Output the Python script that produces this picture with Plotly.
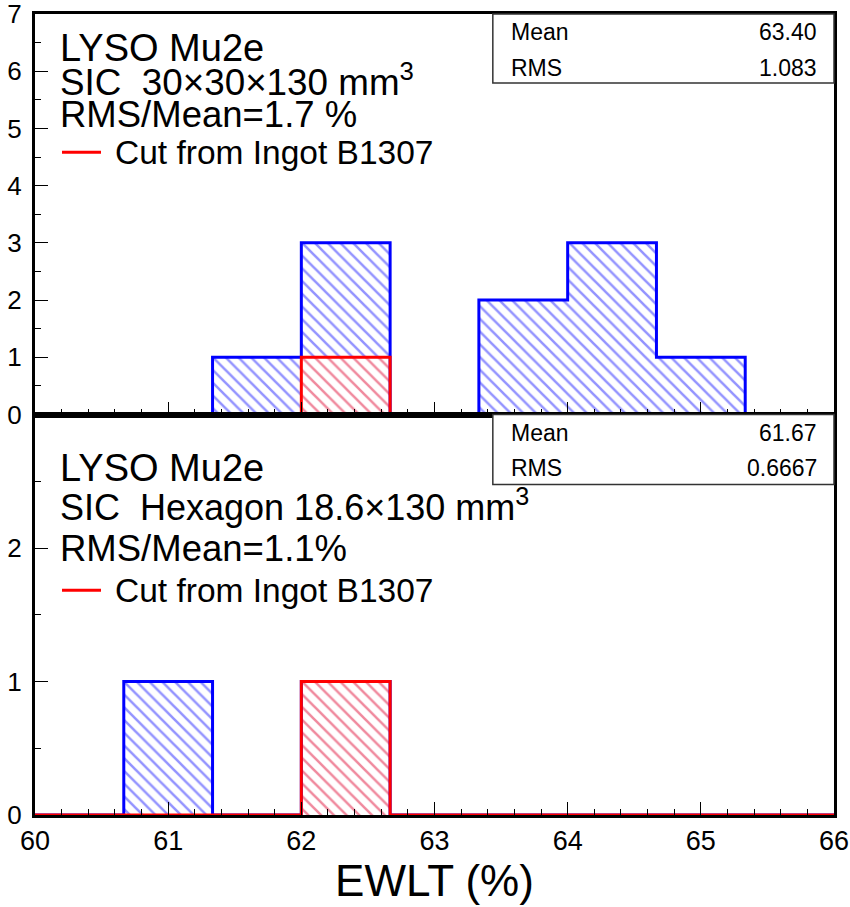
import plotly.graph_objects as go

# ---------------- data ----------------
bin_edges = [60.0, 60.6667, 61.3333, 62.0, 62.6667, 63.3333, 64.0, 64.6667, 65.3333, 66.0]
top_all = [0, 0, 1, 3, 0, 2, 3, 1, 0]      # LYSO 30x30x130 (all)
top_b1307 = [0, 0, 0, 1, 0, 0, 0, 0, 0]    # cut from ingot B1307
bot_all = [0, 1, 0, 1, 0, 0, 0, 0, 0]      # LYSO hexagon (all)
bot_b1307 = [0, 0, 0, 1, 0, 0, 0, 0, 0]    # cut from ingot B1307

top_text = ["LYSO Mu2e", "SIC\u00a0 30×30×130 mm<sup>3</sup>", "RMS/Mean=1.7 %"]
bot_text = ["LYSO Mu2e", "SIC\u00a0 Hexagon 18.6×130 mm<sup>3</sup>", "RMS/Mean=1.1%"]
legend_label = "Cut from Ingot B1307"
stat_names = ["Mean", "RMS"]
top_stats = ["63.40", "1.083"]
bot_stats = ["61.67", "0.6667"]
x_title = "EWLT (%)"

FONT = "Liberation Sans, Arial, sans-serif"
BLUE = "#0000ff"
RED = "#ff0000"
BLUE_HATCH = "rgb(40,40,255)"
RED_HATCH = "rgb(225,20,60)"

centers = [(bin_edges[i] + bin_edges[i + 1]) / 2 for i in range(len(bin_edges) - 1)]
widths = [bin_edges[i + 1] - bin_edges[i] for i in range(len(bin_edges) - 1)]

fig = go.Figure()


def add_hist(counts, color, hatch, xa, ya):
    fig.add_trace(go.Bar(
        x=centers, y=counts, width=widths, xaxis=xa, yaxis=ya,
        marker=dict(color="white", line=dict(width=0),
                    pattern=dict(shape="\\", fgcolor=hatch, bgcolor="white",
                                 size=9, solidity=0.28)),
        showlegend=False, hoverinfo="skip"))
    fig.add_trace(go.Scatter(
        x=bin_edges, y=list(counts) + [counts[-1]], xaxis=xa, yaxis=ya,
        mode="lines", line=dict(color=color, width=3, shape="hv"),
        showlegend=False, hoverinfo="skip"))


add_hist(top_all, BLUE, BLUE_HATCH, "x", "y")
add_hist(top_b1307, RED, RED_HATCH, "x", "y")
add_hist(bot_all, BLUE, BLUE_HATCH, "x2", "y2")
add_hist(bot_b1307, RED, RED_HATCH, "x2", "y2")

axis_common = dict(showline=True, mirror=True, linecolor="black", linewidth=3,
                   ticks="inside", tickcolor="black", tickwidth=1, ticklen=13,
                   showgrid=False, zeroline=False, automargin=False,
                   ticklabeloverflow="allow")
xfont = dict(family=FONT, size=27, color="black")
yfont = dict(family=FONT, size=26, color="black")

fig.update_layout(
    width=850, height=907,
    margin=dict(l=35, r=16, t=14, b=92),
    paper_bgcolor="white", plot_bgcolor="white",
    barmode="overlay", bargap=0,
    showlegend=False,
    xaxis=dict(axis_common, range=[60, 66], dtick=1, tick0=60, anchor="y",
               showticklabels=False,
               minor=dict(dtick=0.2, tick0=60, ticks="inside", ticklen=6, tickcolor="black")),
    yaxis=dict(axis_common, range=[0, 7], dtick=1, tick0=0, domain=[0.5, 1], anchor="x",
               ticklabelstandoff=5, tickfont=yfont,
               minor=dict(dtick=0.5, tick0=0, ticks="inside", ticklen=6, tickcolor="black")),
    xaxis2=dict(axis_common, range=[60, 66], dtick=1, tick0=60, anchor="y2",
                matches="x", tickfont=xfont,
                minor=dict(dtick=0.2, tick0=60, ticks="inside", ticklen=6, tickcolor="black"),
                title=dict(text=x_title, font=dict(family=FONT, size=44, color="black"),
                           standoff=2)),
    yaxis2=dict(axis_common, range=[0, 3], tickmode="array", tickvals=[0, 1, 2],
                domain=[0, 0.5], anchor="x2", ticklabelstandoff=5, tickfont=yfont,
                minor=dict(tickmode="linear", dtick=0.5, tick0=0, ticks="inside",
                           ticklen=6, tickcolor="black")),
)

annotations = []
shapes = []


def panel_text(lines, ys, sizes, yref, leg_y):
    for t, yy, fs in zip(lines, ys, sizes):
        annotations.append(dict(text=t, x=0.029, y=yy, xref="paper", yref=yref,
                                xanchor="left", yanchor="middle", showarrow=False,
                                font=dict(family=FONT, size=fs, color="black")))
    shapes.append(dict(type="line", x0=0.0338, x1=0.0826, y0=leg_y, y1=leg_y,
                       xref="paper", yref=yref, line=dict(color=RED, width=3)))
    annotations.append(dict(text=legend_label, x=0.098, y=leg_y, xref="paper", yref=yref,
                            xanchor="left", yanchor="middle", showarrow=False,
                            font=dict(family=FONT, size=33.5, color="black")))


def stats_box(vals, yref, y_bottom, ys):
    shapes.append(dict(type="rect", x0=0.573, x1=1.0, y0=y_bottom, y1=1.0,
                       xref="paper", yref=yref, line=dict(color="#333333", width=1.5),
                       fillcolor="white", layer="above"))
    for name, v, yy in zip(stat_names, vals, ys):
        annotations.append(dict(text=name, x=0.593, y=yy, xref="paper", yref=yref,
                                xanchor="left", yanchor="middle", showarrow=False,
                                font=dict(family=FONT, size=23, color="black")))
        annotations.append(dict(text=v, x=0.981, y=yy, xref="paper", yref=yref,
                                xanchor="right", yanchor="middle", showarrow=False,
                                font=dict(family=FONT, size=23, color="black")))


panel_text(top_text, [0.915, 0.836, 0.748], [38, 36.8, 36.5], "y domain", 0.655)
panel_text(bot_text, [0.8653, 0.773, 0.6658], [38, 36, 36.5], "y2 domain", 0.5611)
stats_box(top_stats, "y domain", 0.8275, [0.955, 0.865])
stats_box(bot_stats, "y2 domain", 0.8254, [0.9526, 0.8653])

fig.update_layout(annotations=annotations, shapes=shapes)

fig.write_html("out.html")
